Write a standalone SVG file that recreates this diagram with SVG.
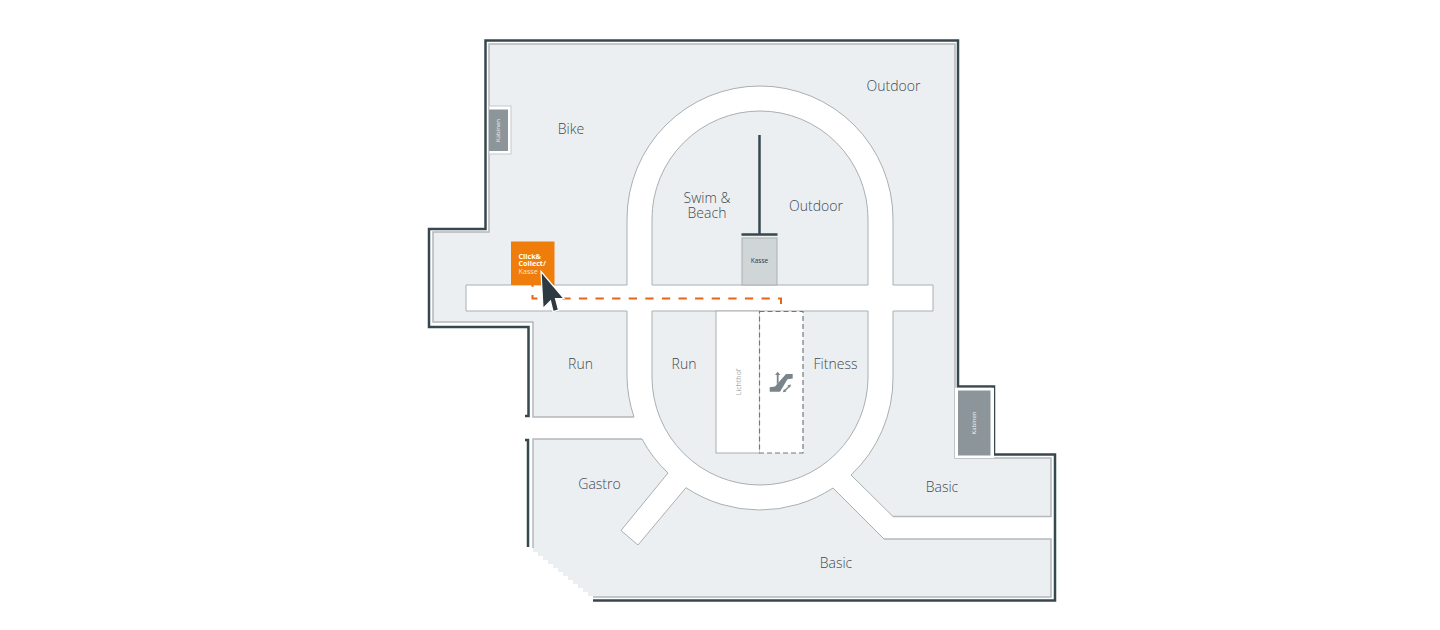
<svg xmlns="http://www.w3.org/2000/svg" width="1440" height="630" viewBox="0 0 1440 630">
<style>
text{font-family:"Open Sans","Liberation Sans",sans-serif}
.lbl{font-size:14px;font-weight:300;fill:#3f4a51;text-anchor:middle}
.floor{fill:#ecEff2;stroke:none}
.edge{fill:none;stroke:#a9afb1;stroke-width:1}
.wedge{fill:none;stroke:#b3b8ba;stroke-width:1.5}
.wall{fill:none;stroke:#37474f;stroke-width:2.5}
.cab{fill:#8b959a}
.small{font-size:6px;fill:#eef0f1;text-anchor:middle}
.ico{fill:#7a858b}
</style>
<rect width="1440" height="630" fill="#fff"/>
<g id="floors">
<path class="floor" d="M489 44H955V458H1051V516.500H893L851 475A133 133 0 0 0 893 377V311H933V285H893V219A133 133 0 0 0 627 219V285H466V311H627V377A133 133 0 0 0 634 417H533V322H433V232H489Z"/>
<path class="edge" d="M893 285V219A133 133 0 0 0 627 219V285H466V311H627V377A133 133 0 0 0 634 417M893 285H933V311H893V377A133 133 0 0 1 851 475L893 516.500"/>
<path class="wedge" d="M634 417H533V322H433V232H489V44H955V458H1051V516.500H893"/>
<path class="floor" d="M533 439H642A133 133 0 0 0 668 473L621 530.500L638 545L686 487.700A133 133 0 0 0 833 488L884 539H1051V597H593V596h-5v-4h-5v-4h-5v-4h-5v-4h-5v-4h-5v-4h-5v-4h-5v-4h-5v-4h-5v-4h-5v-4h-5V439Z"/>
<path class="edge" d="M642 439A133 133 0 0 0 668 473L621 530.500L638 545L686 487.700A133 133 0 0 0 833 488L884 539"/>
<path class="wedge" d="M533 548V439H642M884 539H1051V597H593"/>
<path class="floor" d="M652 285V219A108 108 0 0 1 868 219V285Z"/>
<path class="edge" d="M652 285V219A108 108 0 0 1 868 219V285Z"/>
<path class="floor" d="M652 311V377A108 108 0 0 0 868 377V311Z"/>
<path class="edge" d="M652 311V377A108 108 0 0 0 868 377V311Z"/>
</g>
<g id="walls">
<path class="wall" d="M525 416H528.500V327H429V229H485.500V40.500H958V386.500H994V454.500H1055V600.500H593"/>
<path class="wall" d="M525 440H528V547"/>
<path class="wall" d="M759.500 135V234"/>
<path class="wall" d="M741.500 234.500H777.500"/>
</g>
<g id="cabin-left">
<rect x="489" y="106" width="22" height="48" fill="#fff" stroke="#c4c9cb" stroke-width="1"/>
<rect x="489" y="109.500" width="19" height="41.500" class="cab"/>
<text class="small" transform="translate(500 130.500) rotate(-90)">Kabinen</text>
</g>
<g id="cabin-right">
<rect x="955" y="387.800" width="39" height="70.200" fill="#fff"/>
<rect x="958" y="390.500" width="32.500" height="65" class="cab"/>
<text class="small" transform="translate(976 423) rotate(-90)">Kabinen</text>
</g>
<g id="kasse">
<rect x="742" y="238" width="35" height="47" fill="#d0d5d8" stroke="#aab0b2" stroke-width="1"/>
<text x="759.500" y="263" font-size="6.500" fill="#2e3a42" text-anchor="middle">Kasse</text>
</g>
<g id="lichthof">
<rect x="716" y="311" width="43.500" height="142" fill="#fff" stroke="#a9afb1" stroke-width="1"/>
<text transform="translate(741 382) rotate(-90)" font-size="7" fill="#a4abae" text-anchor="middle">Lichthof</text>
</g>
<g id="escalator">
<rect x="759.500" y="311.500" width="43.500" height="141.500" fill="#fff" stroke="#6f7a80" stroke-width="1.200" stroke-dasharray="5 3"/>
<path class="ico" d="M769.700 391.700V387.300L775 386.500L786 374H792.700V378.500L787.500 379.300L780 391.700Z"/>
<path class="ico" d="M776.800 384.500V375H775L777.700 371.700L780.400 375H778.600V382.500Z"/>
<path d="M785 390.500L789.500 386" stroke="#7a858b" stroke-width="1.500" fill="none"/>
<path class="ico" d="M782.800 392.300L786.500 391.500L784 389ZM791 384.500L787.500 385.300L790 387.800Z"/>
</g>
<g id="click-collect">
<rect x="511" y="241.500" width="43.500" height="43.500" fill="#ef7d0b"/>
<text font-size="7.200" font-weight="700" fill="#fff"><tspan x="518.500" y="258.500">Click&amp;</tspan><tspan x="518.500" y="266">Collect/</tspan><tspan x="518.500" y="273.500" font-weight="400" fill="#fbe3cc">Kasse</tspan></text>
</g>
<g id="connectors">
<path d="M532.500 285V298.500H781V311" fill="none" stroke="#e8641b" stroke-width="2" stroke-dasharray="8.300 8.300" stroke-dashoffset="6.500"/>
</g>
<g id="cursor">
<path d="M541 271.500L564 298.500H555.500L558.500 310L553 311.500L550.500 301L543 308.500Z" fill="#2e3a42" stroke="#fff" stroke-width="1.200" stroke-linejoin="miter"/>
</g>
<g id="labels">
<text class="lbl" x="571" y="134">Bike</text>
<text class="lbl" x="893.500" y="91">Outdoor</text>
<text class="lbl" x="816" y="211">Outdoor</text>
<text class="lbl"><tspan x="707" y="203">Swim &amp;</tspan><tspan x="707" y="218">Beach</tspan></text>
<text class="lbl" x="580.500" y="369">Run</text>
<text class="lbl" x="684" y="369">Run</text>
<text class="lbl" x="835.500" y="369">Fitness</text>
<text class="lbl" x="599.500" y="489">Gastro</text>
<text class="lbl" x="942" y="492">Basic</text>
<text class="lbl" x="836" y="568">Basic</text>
</g>
</svg>
